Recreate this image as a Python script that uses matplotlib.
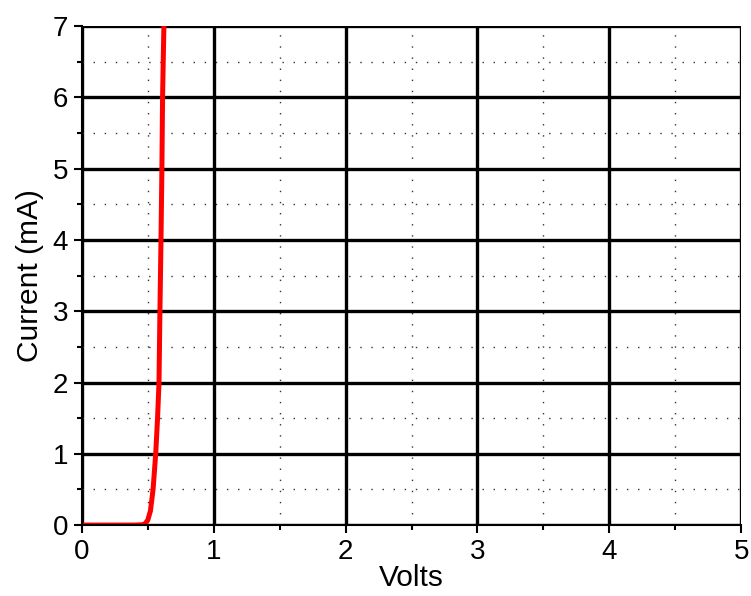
import matplotlib.pyplot as plt
from matplotlib.ticker import MultipleLocator

plt.rcParams['font.family'] = ['Liberation Sans', 'DejaVu Sans']

# diode I-V curve
volts = [0.0, 0.40, 0.46, 0.48, 0.50, 0.52, 0.54, 0.56, 0.574, 0.585,
         0.592, 0.60, 0.607, 0.612, 0.622, 0.63]
current_ma = [0.0, 0.0, 0.005, 0.02, 0.07, 0.2, 0.5, 1.0, 1.5, 2.0,
              3.0, 4.0, 5.0, 6.0, 7.0, 7.8]

fig = plt.figure(figsize=(7.51, 5.96), dpi=100)
ax = fig.add_axes([0.109, 0.119, 0.878, 0.837])

ax.set_xlim(0, 5)
ax.set_ylim(0, 7)
ax.xaxis.set_major_locator(MultipleLocator(1))
ax.xaxis.set_minor_locator(MultipleLocator(0.5))
ax.yaxis.set_major_locator(MultipleLocator(1))
ax.yaxis.set_minor_locator(MultipleLocator(0.5))

ax.grid(which='major', color='black', linewidth=2.4, linestyle='-')
ax.grid(which='minor', color='#333333', linewidth=1.0, linestyle=(0, (1, 7)))
ax.set_axisbelow(True)

ax.plot(volts, current_ma, color='#ff0000', linewidth=3.6, zorder=3)

for s in ['top', 'right']:
    ax.spines[s].set_visible(False)
for s in ['left', 'bottom']:
    ax.spines[s].set_linewidth(1.5)
    ax.spines[s].set_zorder(4)

ax.tick_params(which='major', direction='out', length=6, width=1.5, labelsize=20, pad=4)
ax.tick_params(which='minor', direction='out', length=3.5, width=1.5)

ax.set_xlabel('Volts', fontsize=21.5, labelpad=-1)
ax.set_ylabel('Current (mA)', fontsize=21.5, labelpad=6)

fig.savefig('out.png', dpi=100)
